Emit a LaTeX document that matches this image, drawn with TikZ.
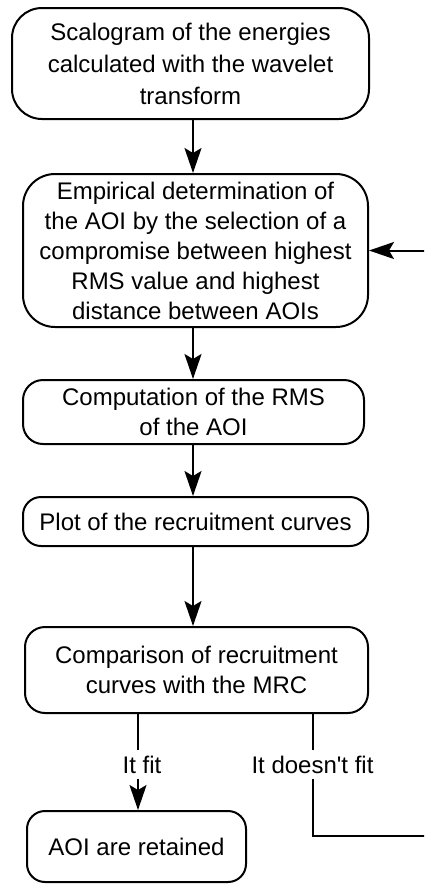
\documentclass[tikz,border=0pt]{standalone}
\usepackage{fontspec}
\setmainfont{Liberation Sans}
\usetikzlibrary{arrows.meta}
\begin{document}
\begin{tikzpicture}[x=1pt,y=-1pt,
  box/.style={draw, line width=2pt, align=center, inner sep=0pt, font=\fontsize{24}{30}\selectfont},
  arr/.style={line width=2pt, -{Stealth[length=25pt,width=17pt,inset=5pt]}},
  ln/.style={line width=2pt},
  lbl/.style={inner sep=0pt, font=\fontsize{24}{30}\selectfont, text height=17pt, text depth=0pt, minimum height=29pt}]
\useasboundingbox (0,0) rectangle (424,884);
\clip (0,0) rectangle (424,884);
\node[box, rounded corners=30pt, minimum width=357pt, minimum height=111pt, font=\fontsize{24}{32}\selectfont] (b1) at (190.5,63.5)
  {Scalogram of the energies\\calculated with the wavelet\\transform};
\node[box, rounded corners=32pt, minimum width=345pt, minimum height=153pt] (b2) at (195.5,250.5)
  {Empirical determination of\\the AOI by the selection of a\\compromise between highest\\RMS value and highest\\distance between AOIs};
\node[box, rounded corners=20pt, minimum width=341pt, minimum height=64pt] (b3) at (193.5,412)
  {Computation of the RMS\\of the AOI};
\node[box, rounded corners=18pt, minimum width=345pt, minimum height=49pt] (b4) at (195.5,521.5)
  {Plot of the recruitment curves};
\node[box, rounded corners=20pt, minimum width=343pt, minimum height=86pt] (b5) at (196.5,670)
  {Comparison of recruitment\\curves with the MRC};
\node[box, rounded corners=18pt, minimum width=219pt, minimum height=71pt] (b6) at (136.5,846.5)
  {AOI are retained};
\node[lbl] (l1) at (142,764.5) {It fit};
\node[lbl] (l2) at (312.5,764.5) {It doesn\textquotesingle t fit};
\coordinate (a) at (193,0);
\coordinate (c1) at (138,0);
\coordinate (c2) at (313,0);
\coordinate (loop) at (432,836);
\draw[arr] (b1.south -| a) -- (b2.north -| a);
\draw[arr] (b2.south -| a) -- (b3.north -| a);
\draw[arr] (b3.south -| a) -- (b4.north -| a);
\draw[arr] (b4.south -| a) -- (b5.north -| a);
\draw[ln] (b5.south -| c1) -- (l1.north -| c1);
\draw[arr] (l1.south -| c1) -- (b6.north -| c1);
\draw[ln] (b5.south -| c2) -- (l2.north -| c2);
\draw[arr] (l2.south -| c2) |- (loop) |- (b2.east);
\end{tikzpicture}
\end{document}
